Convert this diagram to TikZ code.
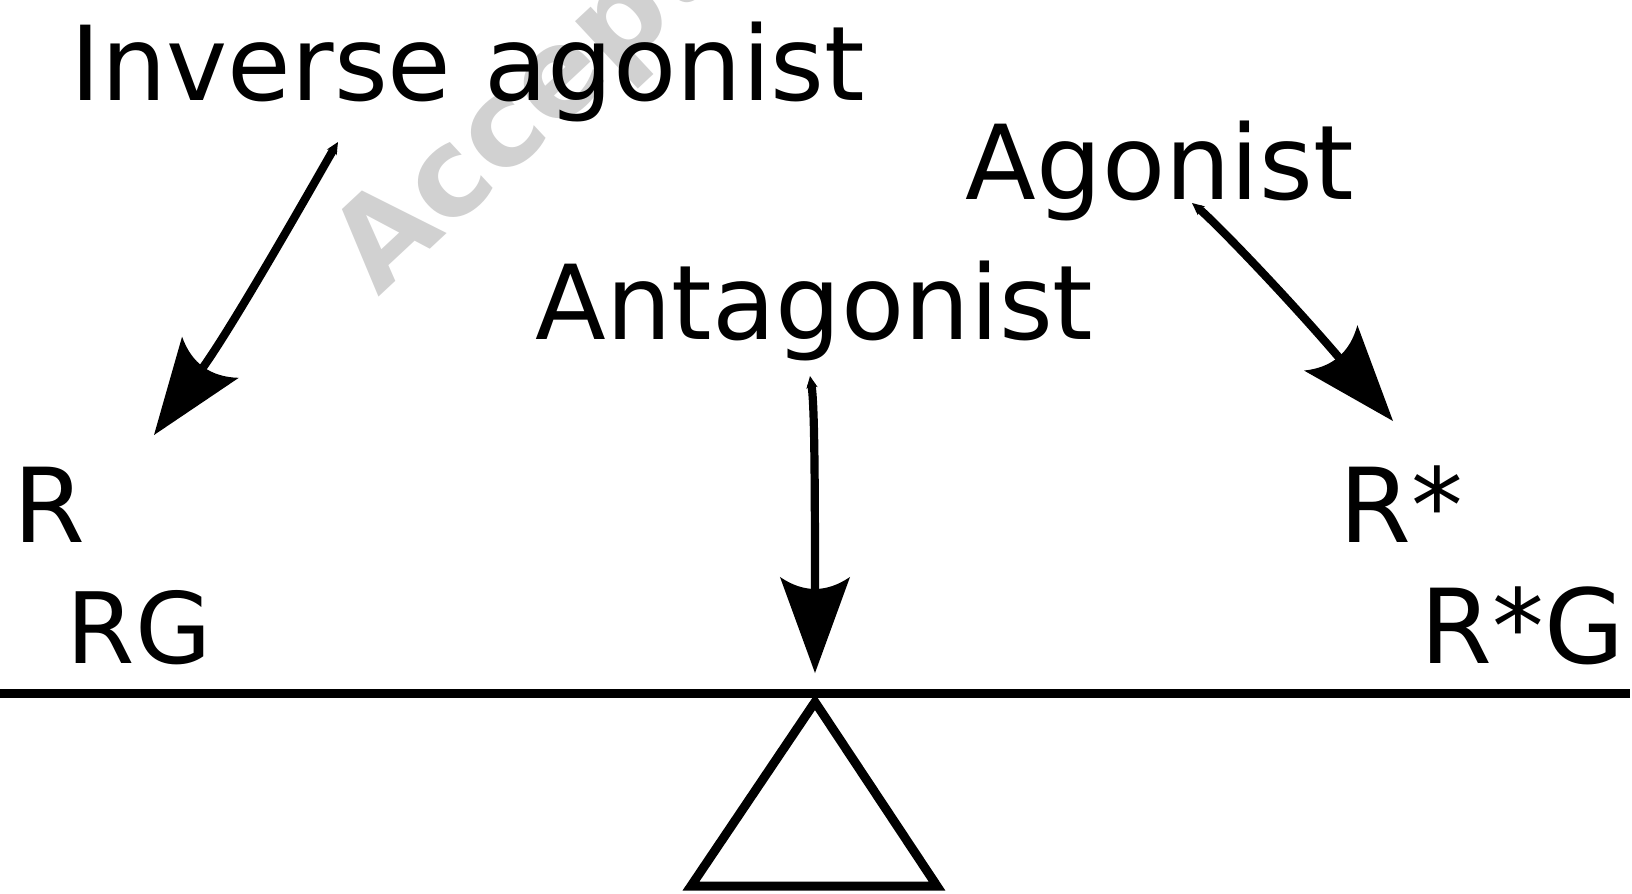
\documentclass[tikz,border=0pt]{standalone}
\usepackage{fontspec}
\setmainfont{DejaVu Sans}
\usetikzlibrary{arrows.meta}
\pgfdeclarearrow{
  name=CurvedBack,
  parameters={\the\pgfarrowlength,\the\pgfarrowwidth,\the\pgfarrowinset},
  setup code={
    \pgfarrowssettipend{0pt}
    \pgfarrowssetbackend{-\pgfarrowlength}
    \dimen0=-\pgfarrowlength
    \advance\dimen0 by \pgfarrowinset
    \advance\dimen0 by 1pt
    \pgfarrowssetlineend{\dimen0}
    \pgfarrowssavethe\pgfarrowlength
    \pgfarrowssavethe\pgfarrowwidth
    \pgfarrowssavethe\pgfarrowinset
  },
  drawing code={
    \pgfpathmoveto{\pgfqpoint{0pt}{0pt}}
    \pgfpathlineto{\pgfpoint{-\pgfarrowlength}{.5\pgfarrowwidth}}
    \pgfpathquadraticcurveto{\pgfpoint{-\pgfarrowlength+2\pgfarrowinset}{0pt}}{\pgfpoint{-\pgfarrowlength}{-.5\pgfarrowwidth}}
    \pgfpathclose
    \pgfusepathqfill
  },
  defaults={length=0.96cm, width=0.70cm, inset=0.12cm}
}
\begin{document}
\begin{tikzpicture}[x=0.01cm,y=-0.01cm,
  lbl/.style={anchor=base west, inner sep=0pt, font=\fontsize{29.4pt}{35pt}\selectfont},
  smalllbl/.style={lbl, font=\fontsize{28pt}{34pt}\selectfont},
  wmark/.style={anchor=base west, inner sep=0pt, rotate=43, text=black!18, font=\bfseries\fontsize{34.7pt}{40pt}\selectfont},
  conn/.style={line width=0.082cm,
    {Stealth[length=0.12cm,width=0.11cm,inset=0.03cm]}-{CurvedBack[length=0.96cm,width=0.70cm,inset=0.12cm]}},
  thickline/.style={line width=0.09cm}]
\useasboundingbox (0,0) rectangle (1632,893);
\clip (0,0) rectangle (1632,893);
% watermark
\node[wmark] (wm) at (378,298) {Accepted};
% labels
\node[lbl] (inv) at (70,100.7) {Inverse agonist};
\node[lbl] (ago) at (965,199) {Agonist};
\node[lbl] (ant) at (535,339.3) {Antagonist};
\node[lbl] (r) at (13,542.7) {R};
\node[smalllbl] (rg) at (66,663.3) {RG};
\node[lbl] (rs) at (1339,542.7) {R*};
\node[lbl] (rsg) at (1420,663.3) {R*G};
% arrow end points
\coordinate (invS) at (338,142);
\coordinate (invE) at (154,435);
\coordinate (antS) at (810,376);
\coordinate (antE) at (815,673);
\coordinate (agoS) at (1192,203);
\coordinate (agoE) at (1393,421);
% connectors
\draw[conn] (invS) .. controls (326,162) and (236,322) .. (invE);
\draw[conn] (antS) .. controls (814,400) and (815,450) .. (antE);
\draw[conn] (agoS) .. controls (1215,222) and (1290,300) .. (agoE);
% balance
\coordinate (beamL) at (0,693.5);
\coordinate (beamR) at (1630,693.5);
\coordinate (pivot) at (815,702);
\coordinate (baseL) at (691,886);
\coordinate (baseR) at (937,886);
\draw[thickline] (beamL) -- (beamR);
\draw[thickline, line join=miter] (pivot) -- (baseR) -- (baseL) -- cycle;
\end{tikzpicture}
\end{document}
